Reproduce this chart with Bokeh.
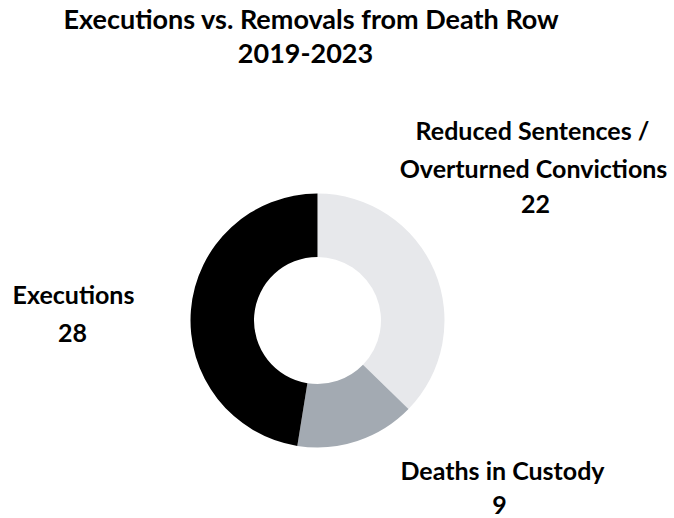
import numpy as np
from bokeh.plotting import figure
from bokeh.models import Range1d
from bokeh.core.properties import value
from bokeh.embed import file_html
from bokeh.resources import INLINE

categories = ["Reduced Sentences / Overturned Convictions", "Deaths in Custody", "Executions"]
counts = [22, 9, 28]
colors = ["#E7E8EB", "#A3AAB2", "#000000"]
title_lines = ["Executions vs. Removals from Death Row", "2019-2023"]

W, H = 674, 518
OFF = 1
TXT_SHIFT = 9
p = figure(width=W, height=H, output_backend="svg", toolbar_location=None,
           x_range=Range1d(0, W), y_range=Range1d(0, H), min_border=0)
p.axis.visible = False
p.grid.visible = False
p.outline_line_color = None
p.background_fill_color = "white"

def Y(py):
    return H - (py - OFF)

def X(px):
    return px - OFF

cx, cy = X(318), Y(321)
total = sum(counts)
fr = np.array(counts) / total
ends = np.pi / 2 - 2 * np.pi * np.cumsum(fr)
starts = np.concatenate([[np.pi / 2], ends[:-1]])
p.annular_wedge(x=cx, y=cy, inner_radius=63.5, outer_radius=127,
                start_angle=ends, end_angle=starts, fill_color=colors,
                line_color=None)

font = value("Lato")
def txt(x, y, s, size):
    p.text(x=[X(x)], y=[Y(y - TXT_SHIFT)], text=[s], text_font=font, text_font_size=size,
           text_font_style="bold", text_align="center", text_baseline="alphabetic",
           text_color="black")

txt(312, 28, title_lines[0], "27px")
txt(306, 63, title_lines[1], "27px")

txt(533, 139, "Reduced Sentences /", "25px")
txt(534, 177, "Overturned Convictions", "25px")
txt(536, 213, str(counts[0]), "25px")
txt(503, 479, categories[1], "25px")
txt(500, 514, str(counts[1]), "25px")
txt(74, 303, categories[2], "25px")
txt(73, 342, str(counts[2]), "25px")

open("out.html", "w").write(file_html(p, INLINE))
